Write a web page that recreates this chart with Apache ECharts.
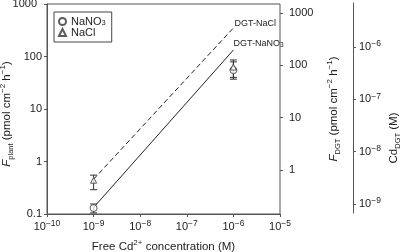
<!DOCTYPE html>
<html><head><meta charset="utf-8">
<script src="https://cdn.jsdelivr.net/npm/echarts@6/dist/echarts.min.js"></script>
<style>html,body{margin:0;padding:0;background:#fff}#c{width:403px;height:252px}</style>
</head><body><div id="c"></div>
<script>
// ---- data ----
const concentrations = [1e-9, 1e-6];          // free Cd2+ (M)
const nano3Values = [0.13, 55];                // F_plant, NaNO3
const nano3Low = [0.105, 37];
const nano3High = [0.155, 79];
const naclValues = [0.44, 63];                 // F_plant, NaCl
const naclLow = [0.29, 40];
const naclHigh = [0.55, 86];
const dgtNaclLine = [0.46, 350];               // DGT-NaCl prediction
const dgtNano3Line = [0.133, 133];             // DGT-NaNO3 prediction
const xTickExponents = [-10, -9, -8, -7, -6, -5];
const fplantTicks = [0.1, 1, 10, 100, 1000];
const fdgtTicks = [1, 10, 100, 1000];
const cdTickExponents = [-9, -8, -7, -6];

const FONT = 'Liberation Sans, Arial, sans-serif';
const TXT = '#222';
const AX = '#555';

const expRich = {
  b: {fontSize: 11, lineHeight: 15, fontFamily: FONT, color: TXT},
  s: {fontSize: 8.5, verticalAlign: 'top', fontFamily: FONT, color: TXT}
};
const titleRich = {
  it: {fontSize: 11.5, fontStyle: 'italic', lineHeight: 16, fontFamily: FONT, color: TXT},
  b: {fontSize: 11.5, lineHeight: 16, fontFamily: FONT, color: TXT},
  sup: {fontSize: 8, verticalAlign: 'top', fontFamily: FONT, color: TXT},
  sub: {fontSize: 7.5, verticalAlign: 'bottom', fontFamily: FONT, color: TXT}
};
const powLabel = v => {
  const e = Math.round(Math.log10(v));
  return '{b|10}{s|' + (e < 0 ? '\u2212' + (-e) : e) + '}';
};
const numLabel = v => v >= 1 ? String(Math.round(v)) : String(+v.toFixed(1));
const leftLabel = v => v >= 1000 ? '{t|' + numLabel(v) + '}' : numLabel(v);

function errRender(params, api) {
  const x = api.value(0);
  const lo = api.coord([x, api.value(1)]);
  const hi = api.coord([x, api.value(2)]);
  const w = 3.5;
  const st = {stroke: '#333', lineWidth: 1};
  return {type: 'group', children: [
    {type: 'line', shape: {x1: lo[0], y1: lo[1], x2: hi[0], y2: hi[1]}, style: st},
    {type: 'line', shape: {x1: lo[0] - w, y1: lo[1], x2: lo[0] + w, y2: lo[1]}, style: st},
    {type: 'line', shape: {x1: hi[0] - w, y1: hi[1], x2: hi[0] + w, y2: hi[1]}, style: st}
  ]};
}

const zip2 = (xs, ys) => xs.map((x, i) => [x, ys[i]]);
const zip3 = (xs, a, b) => xs.map((x, i) => [x, a[i], b[i]]);

const hiddenX = gi => ({gridIndex: gi, type: 'value', show: false, min: 0, max: 1});

const chart = echarts.init(document.getElementById('c'), null, {renderer: 'canvas'});
chart.setOption({
  animation: false,
  backgroundColor: '#fff',
  textStyle: {fontFamily: FONT, color: TXT},
  grid: [
    {left: 47, top: 4, width: 233, height: 210, show: true, borderColor: AX, borderWidth: 1, outerBoundsMode: 'none'},
    {left: 260, top: 13, width: 20, height: 157, outerBoundsMode: 'none'},
    {left: 343, top: 3, width: 10, height: 210, outerBoundsMode: 'none'},
    {left: 343, top: 47, width: 10, height: 157, outerBoundsMode: 'none'}
  ],
  xAxis: [
    {
      gridIndex: 0, type: 'log', logBase: 10,
      min: Math.pow(10, xTickExponents[0]), max: Math.pow(10, xTickExponents[xTickExponents.length - 1]),
      axisLine: {onZero: false, lineStyle: {color: AX}}, axisTick: {length: 3, lineStyle: {color: AX}},
      splitLine: {show: false},
      axisLabel: {margin: 5, formatter: powLabel, rich: expRich},
      name: '{b|Free Cd}{sup|2+}{b| concentration (M)}', nameLocation: 'middle', nameGap: 25,
      nameMoveOverlap: false,
      nameTextStyle: {rich: titleRich}
    },
    hiddenX(1), hiddenX(2), hiddenX(3)
  ],
  yAxis: [
    {
      gridIndex: 0, type: 'log', logBase: 10, position: 'left',
      min: fplantTicks[0], max: fplantTicks[fplantTicks.length - 1],
      axisLine: {onZero: false, lineStyle: {color: AX}}, axisTick: {length: 3, lineStyle: {color: AX}},
      splitLine: {show: false},
      axisLabel: {margin: 5, fontSize: 11, color: TXT, formatter: leftLabel,
        rich: {t: {fontSize: 11, color: TXT, fontFamily: FONT, padding: [0, 5, 0, 0]}}},
      name: '{it|F}{sub|plant}{b| (pmol cm}{sup|\u22122}{b| h}{sup|\u22121}{b|)}',
      nameLocation: 'middle', nameGap: 32, nameMoveOverlap: false,
      nameTextStyle: {rich: titleRich, padding: [0, 10, 0, 0]}
    },
    {
      gridIndex: 0, type: 'value', position: 'right', min: 0, max: 1,
      axisLine: {show: false, onZero: false}, axisTick: {show: false}, axisLabel: {show: false}, splitLine: {show: false},
      name: '{it|F}{sub|DGT}{b| (pmol cm}{sup|\u22122}{b| h}{sup|\u22121}{b|)}',
      nameLocation: 'middle', nameGap: 46, nameMoveOverlap: false, nameTextStyle: {rich: titleRich}
    },
    {
      gridIndex: 1, type: 'log', logBase: 10, position: 'right',
      min: fdgtTicks[0], max: fdgtTicks[fdgtTicks.length - 1],
      axisLine: {show: false, onZero: false}, axisTick: {length: 3, lineStyle: {color: AX}},
      splitLine: {show: false},
      axisLabel: {margin: 9, fontSize: 11, color: TXT, formatter: numLabel}
    },
    {
      gridIndex: 2, type: 'value', position: 'right', min: 0, max: 1,
      axisLine: {show: true, onZero: false, lineStyle: {color: AX}}, axisTick: {show: false}, axisLabel: {show: false},
      splitLine: {show: false},
      name: '{b|Cd}{sub|DGT}{b| (M)}', nameLocation: 'middle', nameGap: 33, nameMoveOverlap: false,
      nameTextStyle: {rich: titleRich, padding: [0, 60, 0, 0]}
    },
    {
      gridIndex: 3, type: 'log', logBase: 10, position: 'right',
      min: Math.pow(10, cdTickExponents[0]), max: Math.pow(10, cdTickExponents[cdTickExponents.length - 1]),
      axisLine: {show: false, onZero: false}, axisTick: {length: 3, lineStyle: {color: AX}},
      splitLine: {show: false},
      axisLabel: {margin: 6, formatter: powLabel, rich: expRich}
    }
  ],
  legend: {
    data: ['NaNO3', 'NaCl'],
    orient: 'vertical', left: 54, top: 12,
    borderColor: '#444', borderWidth: 1, borderRadius: 0, padding: [4, 6, 4, 4],
    itemGap: 0, itemWidth: 7, itemHeight: 7,
    textStyle: {fontSize: 11, color: TXT, fontFamily: FONT,
      rich: {sub: {fontSize: 7.5, verticalAlign: 'bottom', fontFamily: FONT, color: TXT}}},
    formatter: n => n === 'NaNO3' ? 'NaNO{sub|3}' : n
  },
  series: [
    {
      type: 'line', name: 'DGT-NaCl', xAxisIndex: 0, yAxisIndex: 0,
      data: zip2(concentrations, dgtNaclLine), showSymbol: false, z: 2,
      lineStyle: {color: '#222', width: 1, type: [5, 3]},
      endLabel: {show: true, formatter: 'DGT-NaCl', fontSize: 9, color: TXT, distance: 1, offset: [0, -4]}
    },
    {
      type: 'line', name: 'DGT-NaNO3', xAxisIndex: 0, yAxisIndex: 0,
      data: zip2(concentrations, dgtNano3Line), showSymbol: false, z: 2,
      lineStyle: {color: '#222', width: 1},
      endLabel: {show: true, formatter: 'DGT-NaNO{s|3}', fontSize: 9, color: TXT, distance: 0, offset: [0, -6],
        rich: {s: {fontSize: 6.5, verticalAlign: 'bottom', color: TXT}}}
    },
    {
      type: 'custom', name: 'errNaCl', xAxisIndex: 0, yAxisIndex: 0, z: 3,
      renderItem: errRender, encode: {x: 0, y: [1, 2]},
      data: zip3(concentrations, naclLow, naclHigh)
    },
    {
      type: 'custom', name: 'errNaNO3', xAxisIndex: 0, yAxisIndex: 0, z: 3,
      renderItem: errRender, encode: {x: 0, y: [1, 2]},
      data: zip3(concentrations, nano3Low, nano3High)
    },
    {
      type: 'scatter', name: 'NaNO3', xAxisIndex: 0, yAxisIndex: 0, z: 4,
      symbol: 'circle', symbolSize: 7,
      itemStyle: {color: '#fff', borderColor: '#333', borderWidth: 1},
      data: zip2(concentrations, nano3Values)
    },
    {
      type: 'scatter', name: 'NaCl', xAxisIndex: 0, yAxisIndex: 0, z: 4,
      symbol: 'triangle', symbolSize: 6,
      itemStyle: {color: '#fff', borderColor: '#333', borderWidth: 1},
      data: zip2(concentrations, naclValues)
    }
  ]
});
</script>
</body></html>
